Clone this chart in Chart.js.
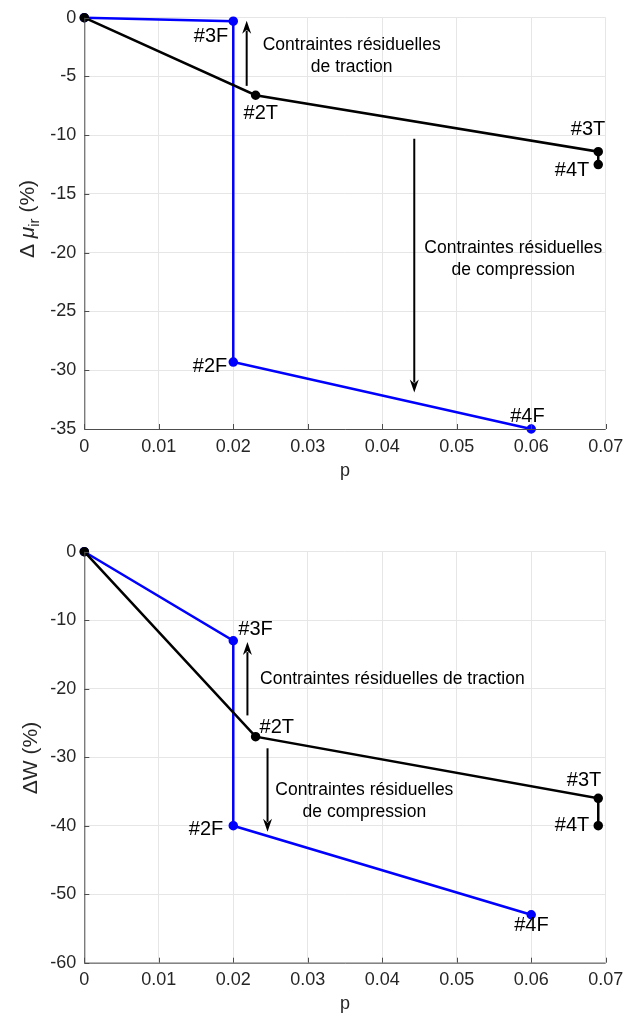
<!DOCTYPE html>
<html>
<head>
<meta charset="utf-8">
<script src="https://cdn.jsdelivr.net/npm/chart.js@4.4.1/dist/chart.umd.min.js"></script>
<style>
  html, body { margin: 0; padding: 0; background: #fff; }
  #wrap { position: relative; width: 624px; height: 1015px; }
  .box { position: absolute; left: 0; width: 624px; }
  #box1 { top: 0; height: 490px; }
  #box2 { top: 490px; height: 525px; }
</style>
</head>
<body>
<div id="wrap">
  <div class="box" id="box1"><canvas id="chartMu"></canvas></div>
  <div class="box" id="box2"><canvas id="chartW"></canvas></div>
</div>
<script>
// données
const xTicks = [0, 0.01, 0.02, 0.03, 0.04, 0.05, 0.06, 0.07];

const muFlexP = [0, 0.02, 0.02, 0.06];
const muFlexV = [0, -0.3, -29.3, -35];
const muFlexLbl = ['', '#3F', '#2F', '#4F'];
const muTracP = [0, 0.023, 0.069, 0.069];
const muTracV = [0, -6.6, -11.4, -12.5];
const muTracLbl = ['', '#2T', '#3T', '#4T'];

const wFlexP = [0, 0.02, 0.02, 0.06];
const wFlexV = [0, -13, -40, -53];
const wFlexLbl = ['', '#3F', '#2F', '#4F'];
const wTracP = [0, 0.023, 0.069, 0.069];
const wTracV = [0, -27, -36, -40];
const wTracLbl = ['', '#2T', '#3T', '#4T'];

const FONT = '"Liberation Sans", Arial, Helvetica, sans-serif';
const BLUE = '#0000ff';

// décalages des étiquettes (px) : [dx, dy, align]
const muLblPos = {
  '#3F': [-5, 15, 'right'], '#2F': [-6, 4, 'right'], '#4F': [-21, -13, 'left'],
  '#2T': [-12, 18, 'left'], '#3T': [7, -22, 'right'], '#4T': [-9, 6, 'right']
};
const wLblPos = {
  '#3F': [5, -11, 'left'], '#2F': [-10, 4, 'right'], '#4F': [-17, 11, 'left'],
  '#2T': [4, -9, 'left'], '#3T': [3, -18, 'right'], '#4T': [-9, 0, 'right']
};

// flèches et textes, en coordonnées des données
const muArrows = [{ p: 0.0218, from: -5.8, to: -0.25 }, { p: 0.0443, from: -10.3, to: -31.9 }];
const muNotes = [
  { p: 0.0359, v: -2.3, lines: ['Contraintes résiduelles', 'de traction'] },
  { p: 0.0576, v: -19.6, lines: ['Contraintes résiduelles', 'de compression'] }
];
const wArrows = [{ p: 0.0219, from: -23.9, to: -13.2 }, { p: 0.0246, from: -28.7, to: -40.9 }];
const wNotes = [
  { p: 0.0236, v: -18.6, lines: ['Contraintes résiduelles de traction'], align: 'left' },
  { p: 0.0376, v: -34.8, lines: ['Contraintes résiduelles', 'de compression'] }
];

function pts(xs, ys) { return xs.map((x, i) => ({ x: x, y: ys[i] })); }

const overlay = {
  id: 'overlay',
  afterDatasetsDraw(chart, args, o) {
    const c = chart.ctx, xs = chart.scales.x, ys = chart.scales.y, a = chart.chartArea;
    c.save();
    // axes gauche et bas + graduations intérieures
    c.strokeStyle = '#4d4d4d'; c.lineWidth = 1;
    c.beginPath();
    c.moveTo(a.left + 0.5, a.top); c.lineTo(a.left + 0.5, a.bottom + 0.5); c.lineTo(a.right, a.bottom + 0.5);
    xs.ticks.forEach(t => { const px = Math.round(xs.getPixelForValue(t.value)) + 0.5; c.moveTo(px, a.bottom); c.lineTo(px, a.bottom - 5); });
    ys.ticks.forEach(t => { const py = Math.round(ys.getPixelForValue(t.value)) + 0.5; c.moveTo(a.left, py); c.lineTo(a.left + 5, py); });
    c.stroke();

    // flèches
    c.strokeStyle = '#000'; c.fillStyle = '#000'; c.lineWidth = 2;
    o.arrows.forEach(ar => {
      const x = xs.getPixelForValue(ar.p), y0 = ys.getPixelForValue(ar.from), y1 = ys.getPixelForValue(ar.to);
      const dir = y1 < y0 ? -1 : 1;
      c.beginPath(); c.moveTo(x, y0); c.lineTo(x, y1 - dir * 10); c.stroke();
      c.beginPath(); c.moveTo(x, y1); c.lineTo(x - 4.5, y1 - dir * 13); c.lineTo(x, y1 - dir * 9); c.lineTo(x + 4.5, y1 - dir * 13); c.closePath(); c.fill();
    });

    // textes
    c.font = '17.5px ' + FONT; c.textBaseline = 'middle'; c.fillStyle = '#000';
    o.notes.forEach(n => {
      c.textAlign = n.align || 'center';
      const x = xs.getPixelForValue(n.p), y = ys.getPixelForValue(n.v);
      n.lines.forEach((l, i) => c.fillText(l, x, y + i * 22));
    });

    // étiquettes des points
    c.font = '20px ' + FONT;
    chart.data.datasets.forEach(ds => {
      ds.data.forEach((d, i) => {
        const lbl = ds.labels[i]; if (!lbl) return;
        const pos = o.lblPos[lbl];
        c.textAlign = pos[2];
        c.fillText(lbl, xs.getPixelForValue(d.x) + pos[0], ys.getPixelForValue(d.y) + pos[1]);
      });
    });

    // titres des axes
    c.fillStyle = '#262626'; c.textAlign = 'center';
    c.font = '18px ' + FONT;
    c.fillText('p', (a.left + a.right) / 2, a.bottom + o.xTitleDy);
    c.translate(o.yTitleX, o.yTitleY); c.rotate(-Math.PI / 2);
    if (o.sub) {
      c.textAlign = 'left';
      const d = 'Δ ', mu = 'μ', rest = ' (%)';
      c.font = '21px ' + FONT;
      const w0 = c.measureText(d).width;
      c.font = 'italic 21px ' + FONT;
      const w1 = c.measureText(mu).width;
      c.font = '15px ' + FONT;
      const w2 = c.measureText(o.sub).width;
      c.font = '21px ' + FONT;
      const w3 = c.measureText(rest).width;
      const x0 = -(w0 + w1 + w2 + w3) / 2;
      c.fillText(d, x0, 0);
      c.font = 'italic 21px ' + FONT; c.fillText(mu, x0 + w0, 0);
      c.font = '15px ' + FONT; c.fillText(o.sub, x0 + w0 + w1, 7);
      c.font = '21px ' + FONT; c.fillText(rest, x0 + w0 + w1 + w2, 0);
    } else {
      c.font = '21px ' + FONT;
      c.fillText(o.yTitle, 0, 0);
    }
    c.restore();
  }
};

function makeChart(id, flexP, flexV, flexLbl, tracP, tracV, tracLbl, yMin, yStep, cfg) {
  return new Chart(document.getElementById(id), {
    type: 'line',
    data: {
      datasets: [
        { data: pts(tracP, tracV), labels: tracLbl, borderColor: '#000', backgroundColor: '#000', borderWidth: 2.5, pointRadius: 3.5, pointHoverRadius: 3.5, tension: 0, clip: false },
        { data: pts(flexP, flexV), labels: flexLbl, borderColor: BLUE, backgroundColor: BLUE, borderWidth: 2.5, pointRadius: 3.5, pointHoverRadius: 3.5, tension: 0, clip: false }
      ]
    },
    options: {
      responsive: true,
      maintainAspectRatio: false,
      animation: false,
      events: [],
      layout: { padding: { top: cfg.top, right: 18.3, left: 0, bottom: 0 } },
      plugins: {
        legend: { display: false }, tooltip: { enabled: false },
        overlay: cfg.overlay
      },
      scales: {
        x: {
          type: 'linear', min: 0, max: 0.07,
          afterBuildTicks: s => { s.ticks = xTicks.map(v => ({ value: v })); },
          afterFit: s => { s.height = cfg.xh; s.paddingLeft = 0; s.paddingRight = 0; },
          grid: { color: '#e6e6e6', drawTicks: false },
          border: { display: false },
          ticks: { padding: 7, color: '#262626', font: { family: FONT, size: 18 }, maxRotation: 0, callback: v => String(+v.toFixed(2)) }
        },
        y: {
          type: 'linear', min: yMin, max: 0,
          afterFit: s => { s.width = 84.3; s.paddingTop = 0; s.paddingBottom = 0; },
          grid: { color: '#e6e6e6', drawTicks: false },
          border: { display: false },
          ticks: { stepSize: yStep, padding: 8, color: '#262626', font: { family: FONT, size: 18 } }
        }
      }
    },
    plugins: [overlay]
  });
}

makeChart('chartMu', muFlexP, muFlexV, muFlexLbl, muTracP, muTracV, muTracLbl, -35, 5, {
  top: 17.7, xh: 61,
  overlay: { arrows: muArrows, notes: muNotes, lblPos: muLblPos, yTitle: 'Δ μ', sub: 'ir', yTitleX: 28, yTitleY: 219, xTitleDy: 42 }
});
makeChart('chartW', wFlexP, wFlexV, wFlexLbl, wTracP, wTracV, wTracLbl, -60, 10, {
  top: 61.7, xh: 52.3,
  overlay: { arrows: wArrows, notes: wNotes, lblPos: wLblPos, yTitle: 'ΔW (%)', sub: null, yTitleX: 31, yTitleY: 268, xTitleDy: 41 }
});
</script>
</body>
</html>
